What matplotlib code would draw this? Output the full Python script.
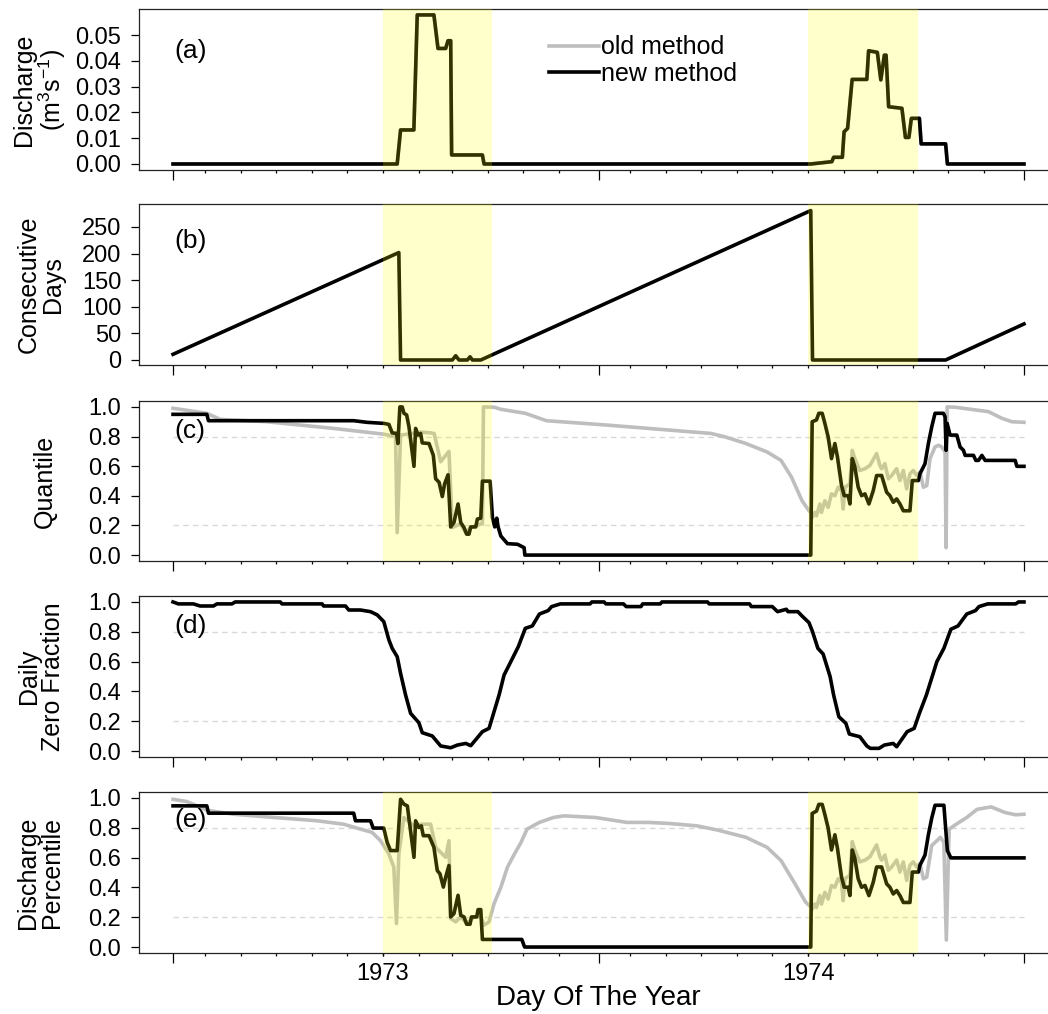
import numpy as np
import matplotlib
matplotlib.use("Agg")
import matplotlib.pyplot as plt
from matplotlib.lines import Line2D

plt.rcParams['font.family'] = ['Liberation Sans', 'DejaVu Sans']
plt.rcParams['mathtext.fontset'] = 'custom'
plt.rcParams['mathtext.rm'] = 'Liberation Sans'
plt.rcParams['mathtext.it'] = 'Liberation Sans:italic'

# ---------------- data (day offset from START, value) ----------------
START = np.datetime64('1972-07-05')
N_DAYS = 730
wet_seasons = [('1973-01-01', '1973-04-05'), ('1974-01-01', '1974-04-05')]
year_labels = ['1973', '1974']
ref_lines = [0.2, 0.8]

discharge = [(0, 0), (192.3, 0), (195.2, 0.0132), (206.6, 0.0132), (209.5, 0.0578), (223.8, 0.0578),
             (227.3, 0.0448), (233.9, 0.0448), (235.9, 0.0478), (238.2, 0.0478), (239.0, 0.0035),
             (265.4, 0.0035), (266.8, 0), (547.1, 0), (565.2, 0.0009), (566.7, 0.0026), (574.2, 0.0026),
             (575.7, 0.0125), (578.7, 0.0138), (582.6, 0.0328), (595.2, 0.0328), (596.7, 0.0439),
             (604.2, 0.0433), (607.2, 0.0326), (610.2, 0.0422), (611.7, 0.0422), (613.9, 0.0222),
             (625.3, 0.0216), (628.3, 0.0103), (631.3, 0.0103), (633.4, 0.0177), (640.3, 0.0177),
             (641.8, 0.0078), (662.8, 0.0078), (664.3, 0), (730, 0)]

consecutive_days = [(0, 10.7), (193.7, 201.8), (195.2, 0), (239.6, 0), (242.5, 8), (245.3, 0), (252.5, 0),
                    (254.8, 6), (256.8, 0), (264.0, 0), (547.1, 280.7), (548.6, 0), (662.8, 0), (730, 67.7)]

quantile_new = [(0, 0.95), (29.0, 0.95), (30.4, 0.907), (155.0, 0.907), (166.5, 0.896), (180.8, 0.889),
                (185.2, 0.882), (188.0, 0.825), (191.8, 0.821), (192.9, 0.753), (194.6, 1.0), (196.6, 1.0),
                (198.1, 0.957), (200.4, 0.946), (202.4, 0.866), (206.7, 0.599), (208.1, 0.855), (210.1, 0.810),
                (212.4, 0.821), (213.8, 0.757), (219.6, 0.753), (223.3, 0.673), (225.3, 0.515), (228.2, 0.492),
                (231.0, 0.395), (233.0, 0.481), (235.9, 0.542), (238.2, 0.190), (241.0, 0.220), (244.5, 0.345),
                (246.8, 0.220), (249.6, 0.186), (251.9, 0.141), (253.9, 0.141), (255.4, 0.190), (259.7, 0.190),
                (261.1, 0.243), (264.0, 0.249), (265.4, 0.499), (272.0, 0.499), (274.0, 0.254), (276.0, 0.190),
                (277.7, 0.249), (278.9, 0.190), (281.2, 0.129), (286.9, 0.077), (295.5, 0.073), (301.2, 0.050),
                (301.8, 0.0), (547.1, 0.0), (548.3, 0.900), (552.0, 0.912), (554.0, 0.957), (556.9, 0.957),
                (559.2, 0.889), (562.0, 0.798), (564.9, 0.651), (567.8, 0.753), (570.0, 0.662), (573.5, 0.469),
                (575.8, 0.401), (579.2, 0.401), (580.7, 0.345), (582.7, 0.651), (584.9, 0.594), (587.8, 0.458),
                (590.7, 0.401), (593.6, 0.413), (597.0, 0.345), (600.7, 0.435), (603.6, 0.537), (607.9, 0.537),
                (612.2, 0.424), (615.0, 0.401), (617.9, 0.356), (620.8, 0.379), (623.6, 0.345), (626.5, 0.299),
                (632.2, 0.299), (634.2, 0.503), (639.4, 0.503), (640.8, 0.549), (645.1, 0.617), (648.0, 0.753),
                (650.9, 0.866), (653.7, 0.957), (660.9, 0.957), (662.3, 0.934), (663.2, 0.707), (664.1, 0.889),
                (666.6, 0.810), (672.4, 0.810), (675.2, 0.730), (678.1, 0.707), (679.5, 0.673), (686.7, 0.673),
                (688.7, 0.639), (691.0, 0.639), (693.9, 0.673), (696.7, 0.639), (722.5, 0.639), (723.9, 0.599),
                (730, 0.599)]

quantile_old = [(0, 0.991), (29, 0.957), (40.4, 0.916), (80.5, 0.900), (137.8, 0.855), (180.8, 0.816),
                (190.9, 0.80), (192.3, 0.152), (195.2, 0.81), (205, 0.82), (212, 0.83), (221, 0.825),
                (224, 0.82), (229.6, 0.63), (236.7, 0.70), (239.6, 0.186), (246.7, 0.21), (251, 0.152),
                (255.4, 0.186), (264, 0.21), (265.4, 0.21), (266.3, 1.0), (275.4, 0.998), (281.2, 0.984),
                (302.2, 0.957), (320.3, 0.907), (371.4, 0.878), (461.5, 0.821), (473.5, 0.798), (491.5, 0.753),
                (509.6, 0.696), (521.6, 0.639), (530.6, 0.526), (539.6, 0.367), (545.6, 0.299), (547.1, 0.288),
                (548.3, 0.254), (550.6, 0.288), (552.0, 0.265), (554.9, 0.345), (556.3, 0.288), (559.2, 0.367),
                (562.0, 0.322), (564.9, 0.413), (567.8, 0.401), (570.6, 0.458), (573.5, 0.435), (574.9, 0.311),
                (576.4, 0.458), (580.7, 0.481), (582.7, 0.707), (584.9, 0.651), (589.2, 0.571), (593.6, 0.583),
                (597.8, 0.605), (603.6, 0.685), (606.4, 0.605), (607.9, 0.583), (610.7, 0.617), (613.6, 0.515),
                (616.5, 0.537), (620.8, 0.583), (623.6, 0.503), (626.5, 0.571), (629.4, 0.447), (632.2, 0.549),
                (635.1, 0.571), (638.0, 0.537), (640.8, 0.560), (643.7, 0.458), (646.6, 0.469), (649.4, 0.651),
                (653.7, 0.730), (656.6, 0.741), (659.5, 0.730), (662.3, 0.696), (663.2, 0.050), (664.1, 1.0),
                (670.9, 0.998), (699.6, 0.968), (711.1, 0.923), (719.7, 0.900), (730, 0.896)]

zero_fraction = [(0, 1.0), (4.6, 0.987), (17.5, 0.987), (23.2, 0.973), (34.7, 0.973), (37.6, 0.987),
                 (50.5, 0.987), (53.3, 1.0), (92.0, 1.0), (93.5, 0.987), (127.9, 0.987), (129.2, 0.973),
                 (147.9, 0.973), (150.8, 0.946), (160.8, 0.946), (169.4, 0.935), (175.2, 0.913), (180.8, 0.868),
                 (185.2, 0.745), (188.0, 0.689), (192.3, 0.633), (195.2, 0.521), (199.5, 0.376), (203.8, 0.253),
                 (210.9, 0.190), (213.8, 0.123), (222.4, 0.101), (229.6, 0.034), (238.2, 0.022), (243.9, 0.040),
                 (251.1, 0.051), (255.4, 0.036), (265.4, 0.130), (271.1, 0.152), (275.4, 0.264), (279.7, 0.376),
                 (284.0, 0.510), (289.8, 0.600), (296.2, 0.700), (302.2, 0.823), (308.2, 0.839), (314.3, 0.919),
                 (321.8, 0.942), (324.8, 0.969), (332.3, 0.987), (357.8, 0.987), (359.3, 1.0), (369.8, 1.0),
                 (371.4, 0.987), (386.4, 0.987), (388.8, 0.969), (401.4, 0.969), (402.9, 0.987), (418.0, 0.987),
                 (419.4, 1.0), (458.5, 1.0), (460.0, 0.987), (494.6, 0.987), (496.1, 0.969), (514.1, 0.969),
                 (518.6, 0.935), (526.1, 0.951), (527.6, 0.935), (536.0, 0.935), (539.6, 0.906), (545.6, 0.861),
                 (548.6, 0.801), (553.2, 0.689), (557.7, 0.651), (563.7, 0.499), (566.7, 0.376), (571.2, 0.230),
                 (577.2, 0.186), (580.2, 0.114), (589.2, 0.096), (595.2, 0.034), (598.2, 0.018), (605.7, 0.018),
                 (610.2, 0.040), (617.8, 0.051), (620.8, 0.029), (629.8, 0.130), (635.8, 0.152), (640.3, 0.253),
                 (646.3, 0.376), (650.8, 0.488), (655.3, 0.600), (661.3, 0.689), (667.3, 0.817), (673.4, 0.839),
                 (680.9, 0.919), (688.4, 0.942), (691.4, 0.969), (698.9, 0.987), (722.9, 0.987), (725.3, 1.0),
                 (730, 1.0)]

percentile_new = [(0, 0.947), (29.0, 0.947), (30.4, 0.898), (155.0, 0.898), (156.5, 0.847), (169.4, 0.847),
                  (171.7, 0.798), (180.8, 0.798), (183.7, 0.702), (186.6, 0.647), (192.3, 0.647), (195.2, 0.991),
                  (198.1, 0.958), (201.0, 0.947), (206.7, 0.602), (208.1, 0.847), (210.9, 0.802), (213.0, 0.813),
                  (214.7, 0.747), (219.6, 0.747), (223.8, 0.669), (226.7, 0.513), (229.0, 0.491), (231.9, 0.402),
                  (233.9, 0.469), (236.7, 0.547), (238.2, 0.202), (241.0, 0.224), (244.5, 0.347), (246.8, 0.213),
                  (249.6, 0.202), (251.9, 0.153), (254.8, 0.153), (256.0, 0.202), (260.5, 0.202), (261.7, 0.251),
                  (264.0, 0.251), (265.4, 0.051), (299.2, 0.051), (301.6, 0.0), (547.1, 0.0), (548.3, 0.896),
                  (552.0, 0.912), (554.0, 0.957), (556.9, 0.957), (559.2, 0.889), (562.0, 0.798), (564.9, 0.651),
                  (567.8, 0.753), (570.0, 0.662), (573.5, 0.469), (575.8, 0.401), (579.2, 0.401), (580.7, 0.345),
                  (582.7, 0.651), (584.9, 0.594), (587.8, 0.458), (590.7, 0.401), (593.6, 0.413), (597.0, 0.345),
                  (600.7, 0.435), (603.6, 0.537), (607.9, 0.537), (612.2, 0.424), (615.0, 0.401), (617.9, 0.356),
                  (620.8, 0.379), (623.6, 0.345), (626.5, 0.299), (632.2, 0.299), (634.2, 0.503), (639.4, 0.503),
                  (640.8, 0.549), (645.1, 0.617), (648.0, 0.753), (650.9, 0.866), (653.7, 0.951), (661.3, 0.951),
                  (664.3, 0.647), (667.3, 0.598), (730, 0.598)]

percentile_old = [(0, 0.991), (11.8, 0.976), (29, 0.918), (51.9, 0.891), (80.5, 0.873), (123.5, 0.847),
                  (146.4, 0.824), (160.8, 0.791), (170.8, 0.769), (178, 0.713), (185.2, 0.624), (189.4, 0.536),
                  (191.7, 0.158), (193.7, 0.624), (198, 0.869), (208.1, 0.802), (212.4, 0.824), (221, 0.824),
                  (225.3, 0.669), (233.9, 0.602), (236.7, 0.713), (238.2, 0.191), (242.5, 0.169), (246.8, 0.202),
                  (251.9, 0.158), (258.2, 0.202), (264, 0.202), (266.8, 0.147), (271.1, 0.169), (275.4, 0.291),
                  (281.2, 0.40), (286.9, 0.536), (292.6, 0.62), (298.4, 0.70), (303.7, 0.791), (314.3, 0.836),
                  (326.3, 0.869), (335.3, 0.88), (362.3, 0.869), (371.4, 0.858), (389.4, 0.836), (407.4, 0.836),
                  (425.4, 0.829), (449.5, 0.813), (467.5, 0.784), (491.5, 0.736), (509.6, 0.669), (521.6, 0.58),
                  (533.6, 0.424), (542.6, 0.302), (547.1, 0.269), (548.3, 0.254), (550.6, 0.288), (552.0, 0.265),
                  (554.9, 0.345), (556.3, 0.288), (559.2, 0.367), (562.0, 0.322), (564.9, 0.413), (567.8, 0.401),
                  (570.6, 0.458), (573.5, 0.435), (574.9, 0.311), (576.4, 0.458), (580.7, 0.481), (582.7, 0.707),
                  (584.9, 0.651), (589.2, 0.571), (593.6, 0.583), (597.8, 0.605), (603.6, 0.685), (606.4, 0.605),
                  (607.9, 0.583), (610.7, 0.617), (613.6, 0.515), (616.5, 0.537), (620.8, 0.583), (623.6, 0.503),
                  (626.5, 0.571), (629.4, 0.447), (632.2, 0.549), (635.1, 0.571), (638.0, 0.537), (640.8, 0.560),
                  (643.7, 0.458), (646.6, 0.469), (650.8, 0.68), (658.3, 0.736), (661.3, 0.702), (663.4, 0.047),
                  (665.8, 0.791), (671.9, 0.824), (680.9, 0.869), (689.9, 0.924), (701.9, 0.94), (713.9, 0.902),
                  (722.9, 0.887), (730, 0.891)]

# ---------------- styling ----------------
BLACK = 'black'
GREY = '#bebebe'
LW = 2.6
TICK_FS = 17

fig = plt.figure(figsize=(10.48, 10.14), dpi=100)
W, H = 1048, 1014
left_px, right_px = 139, 1058
panels_px = [(9, 170), (204, 365), (401, 561), (596, 757), (792, 953)]
shaded = [True, True, True, False, True]
axes = []
for top, bot in panels_px:
    ax = fig.add_axes([left_px / W, 1 - bot / H, (right_px - left_px) / W, (bot - top) / H])
    axes.append(ax)


def xy(series):
    a = np.array(series, dtype=float)
    return a[:, 0], a[:, 1]


def day(s):
    return int((np.datetime64(s) - START).astype(int))


months = np.arange(np.datetime64('1972-07'), np.datetime64('1974-08'), np.timedelta64(1, 'M')).astype('datetime64[D]')
month_days = (months - START).astype(int)
major_days = np.array([0, 365, 730])
minor_days = [m for m in month_days if np.min(np.abs(major_days - m)) > 6 and -29 < m < 759]

for i, ax in enumerate(axes):
    ax.set_xlim(-0.04 * N_DAYS, N_DAYS * 1.04)
    ax.set_xticks(major_days)
    ax.set_xticks(minor_days, minor=True)
    ax.tick_params(axis='x', which='major', length=7.2, width=0.9, labelbottom=False)
    ax.tick_params(axis='x', which='minor', length=2.5, width=0.9)
    ax.tick_params(axis='y', which='major', length=5.8, width=0.9, labelsize=TICK_FS, pad=7)
    for sp in ax.spines.values():
        sp.set_linewidth(0.9)
        sp.set_color('#222222')
    if shaded[i]:
        for s, e in wet_seasons:
            ax.axvspan(day(s), day(e), color='yellow', alpha=0.2, lw=0, zorder=3)

# (a) discharge
ax = axes[0]
x, y = xy(discharge)
ax.plot(x, y, color=GREY, lw=LW, zorder=2)
ax.plot(x, y, color=BLACK, lw=LW, zorder=2.5)
ax.set_ylim(-0.00233, 0.0601)
ax.set_yticks([0, 0.01, 0.02, 0.03, 0.04, 0.05])
ax.set_yticklabels(['0.00', '0.01', '0.02', '0.03', '0.04', '0.05'])
ax.set_ylabel('Discharge\n(m$^3$s$^{-1}$)', fontsize=18, va='center', linespacing=1.05)
ax.yaxis.set_label_coords((40 - left_px) / (right_px - left_px), 0.5)
handles = [Line2D([], [], color=GREY, lw=LW), Line2D([], [], color=BLACK, lw=LW)]
ax.legend(handles, ['old method', 'new method'], loc='center left', bbox_to_anchor=(0.446, 0.68),
          frameon=False, fontsize=18, handlelength=2.0, handletextpad=0.1, borderpad=0,
          borderaxespad=0, labelspacing=0.1)

# (b) consecutive days
ax = axes[1]
x, y = xy(consecutive_days)
ax.plot(x, y, color=BLACK, lw=LW, zorder=2.5)
ax.set_ylim(-9.4, 293)
ax.set_yticks([0, 50, 100, 150, 200, 250])
ax.set_ylabel('Consecutive\nDays', fontsize=18, va='center', linespacing=1.05)
ax.yaxis.set_label_coords((41 - left_px) / (right_px - left_px), 0.5)

# (c) quantile
ax = axes[2]
ax.hlines(ref_lines, 0, N_DAYS, colors='#d8d8d8', linestyles=(0, (4, 3)), lw=1, zorder=1)
x, y = xy(quantile_old)
ax.plot(x, y, color=GREY, lw=LW, zorder=2)
x, y = xy(quantile_new)
ax.plot(x, y, color=BLACK, lw=LW, zorder=2.5)
ax.set_ylabel('Quantile', fontsize=18, va='center')
ax.yaxis.set_label_coords((45 - left_px) / (right_px - left_px), 0.5)

# (d) zero fraction
ax = axes[3]
ax.hlines(ref_lines, 0, N_DAYS, colors='#d8d8d8', linestyles=(0, (4, 3)), lw=1, zorder=1)
x, y = xy(zero_fraction)
ax.plot(x, y, color=BLACK, lw=LW, zorder=2.5)
ax.set_ylabel('Daily\nZero Fraction', fontsize=18, va='center', linespacing=1.05)
ax.yaxis.set_label_coords((41 - left_px) / (right_px - left_px), 0.5)

# (e) discharge percentile
ax = axes[4]
ax.hlines(ref_lines, 0, N_DAYS, colors='#d8d8d8', linestyles=(0, (4, 3)), lw=1, zorder=1)
x, y = xy(percentile_old)
ax.plot(x, y, color=GREY, lw=LW, zorder=2)
x, y = xy(percentile_new)
ax.plot(x, y, color=BLACK, lw=LW, zorder=2.5)
ax.set_ylabel('Discharge\nPercentile', fontsize=18, va='center', linespacing=1.05)
ax.yaxis.set_label_coords((40 - left_px) / (right_px - left_px), 0.5)

for ax in axes[2:]:
    ax.set_ylim(-0.04, 1.04)
    ax.set_yticks([0, 0.2, 0.4, 0.6, 0.8, 1.0])
    ax.set_yticklabels(['0.0', '0.2', '0.4', '0.6', '0.8', '1.0'])

sec = axes[4].secondary_xaxis('bottom')
sec.set_xticks([day('1973-01-01'), day('1974-01-01')], labels=year_labels)
sec.tick_params(length=2.5, width=0.9, labelsize=TICK_FS, pad=5)
sec.spines['bottom'].set_visible(False)
axes[4].set_xlabel('Day Of The Year', fontsize=20)
axes[4].xaxis.set_label_coords(0.5, -0.2)

letter_y = [0.737, 0.773, 0.814, 0.816, 0.826]
for ax, lab, ly in zip(axes, ['(a)', '(b)', '(c)', '(d)', '(e)'], letter_y):
    ax.text(0.0384, ly, lab, transform=ax.transAxes, fontsize=19, ha='left', va='center', zorder=5)

fig.savefig('out.png', dpi=100)
